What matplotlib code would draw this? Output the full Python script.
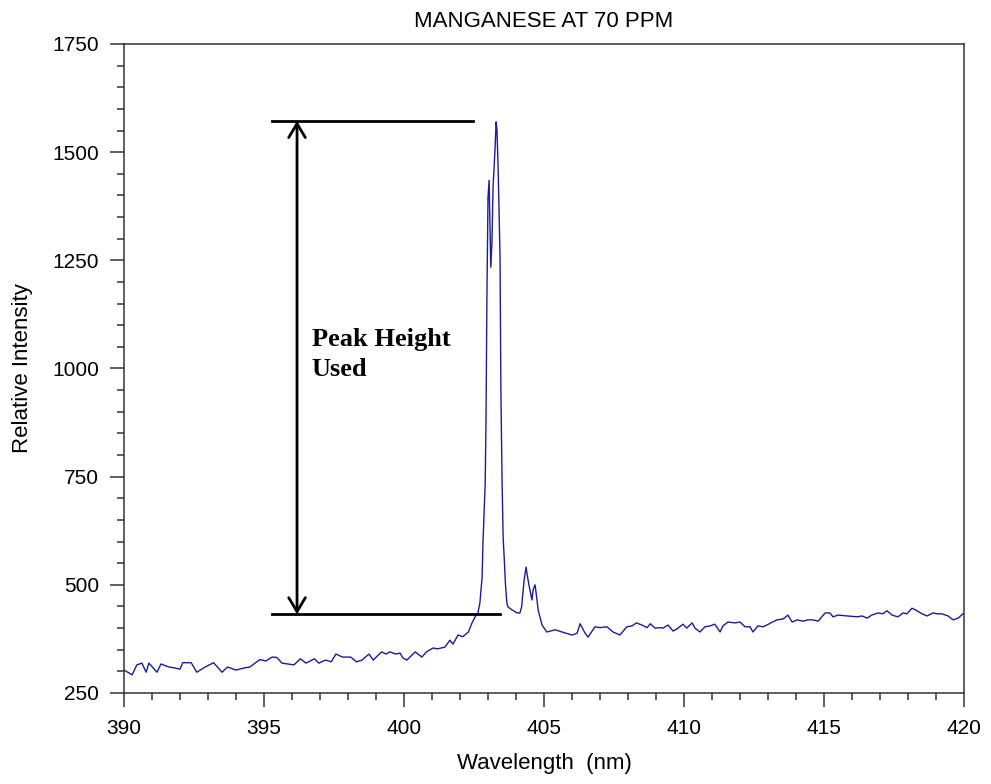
##====================================================##
##       About: Manganese emission spectrum at 70 ppm
##              with the peak height marked.
##====================================================##

import matplotlib
matplotlib.use("Agg")
import matplotlib.pyplot as plt
import numpy as np


## DATA ##

wavelength_nm = [
    390.00, 390.29, 390.46, 390.64, 390.79, 390.89, 391.18, 391.32, 391.60, 391.80,
    392.00, 392.10, 392.40, 392.60, 392.90, 393.20, 393.50, 393.70, 394.00, 394.30,
    394.50, 394.70, 394.85, 395.07, 395.29, 395.46, 395.64, 396.07, 396.30, 396.50,
    396.80, 396.96, 397.20, 397.40, 397.57, 397.80, 398.10, 398.30, 398.50, 398.75,
    398.90, 399.20, 399.36, 399.50, 399.70, 399.86, 399.96, 400.10, 400.40, 400.64,
    400.80, 401.04, 401.20, 401.46, 401.64, 401.75, 401.93, 402.10, 402.30, 402.43,
    402.54, 402.64, 402.71, 402.79, 402.82, 402.90, 402.93, 402.96, 403.00, 403.04,
    403.07, 403.10, 403.14, 403.18, 403.25, 403.29, 403.32, 403.36, 403.43, 403.46,
    403.50, 403.54, 403.58, 403.62, 403.67, 403.71, 403.86, 404.04, 404.14, 404.20,
    404.29, 404.36, 404.39, 404.46, 404.57, 404.61, 404.68, 404.75, 404.79, 404.93,
    405.10, 405.40, 405.64, 406.00, 406.18, 406.29, 406.46, 406.57, 406.82, 407.00,
    407.25, 407.46, 407.71, 407.96, 408.14, 408.30, 408.50, 408.68, 408.80, 408.96,
    409.14, 409.25, 409.43, 409.61, 409.79, 409.96, 410.10, 410.29, 410.39, 410.57,
    410.75, 410.93, 411.10, 411.29, 411.39, 411.57, 411.82, 412.00, 412.18, 412.36,
    412.46, 412.64, 412.82, 412.96, 413.10, 413.32, 413.54, 413.71, 413.86, 414.04,
    414.25, 414.43, 414.60, 414.79, 415.04, 415.21, 415.32, 415.50, 415.82, 416.18,
    416.36, 416.54, 416.70, 416.93, 417.10, 417.25, 417.43, 417.64, 417.82, 417.96,
    418.14, 418.32, 418.50, 418.68, 418.89, 419.04, 419.21, 419.43, 419.61, 419.79,
    419.96, 420.00,
]

relative_intensity = [
    303, 292, 315, 319, 298, 319, 298, 317, 310, 308,
    305, 320, 320, 298, 310, 320, 298, 310, 303, 308,
    310, 320, 327, 324, 333, 332, 319, 315, 329, 319,
    329, 319, 326, 322, 340, 333, 333, 322, 326, 340,
    326, 345, 340, 345, 340, 342, 331, 326, 345, 333,
    345, 354, 352, 356, 372, 363, 384, 380, 391, 412,
    426, 435, 458, 518, 597, 735, 888, 1158, 1396, 1435,
    1327, 1234, 1290, 1419, 1505, 1570, 1551, 1466, 1257, 950,
    749, 610, 560, 505, 460, 449, 442, 435, 435, 449,
    511, 541, 527, 500, 465, 488, 500, 465, 442, 407,
    391, 396, 391, 384, 388, 410, 389, 379, 403, 401,
    403, 391, 384, 403, 405, 412, 407, 401, 410, 400,
    401, 400, 407, 393, 400, 409, 400, 412, 400, 391,
    403, 405, 409, 391, 405, 414, 412, 414, 403, 403,
    391, 405, 403, 407, 412, 419, 421, 430, 414, 419,
    416, 419, 419, 416, 435, 435, 426, 430, 428, 426,
    428, 423, 430, 435, 433, 440, 430, 426, 435, 433,
    446, 440, 433, 428, 435, 433, 433, 428, 419, 423,
    433, 433,
]

# peak height marker
PEAK_TOP = 1572
PEAK_BASE = 432
ARROW_X = 396.18
TOP_LINE_X = [395.29, 402.46]
BASE_LINE_X = [395.29, 403.43]


## FIGURE ##

plt.rcParams["font.family"] = ["Liberation Sans", "DejaVu Sans"]

fig = plt.figure(figsize=(9.91, 7.84), dpi=100)
ax = fig.add_axes([0.1251, 0.1161, 0.8477, 0.8278])

ax.plot(wavelength_nm, relative_intensity, color="#1c1c96", linewidth=1.0)

## PEAK HEIGHT MARKING ##
ax.plot(TOP_LINE_X, [PEAK_TOP, PEAK_TOP], color="black", linewidth=2)
ax.plot(BASE_LINE_X, [PEAK_BASE, PEAK_BASE], color="black", linewidth=2)
ax.annotate("", xy=(ARROW_X, PEAK_TOP), xytext=(ARROW_X, PEAK_BASE),
            arrowprops=dict(arrowstyle="<->, head_length=0.5, head_width=0.3",
                            color="black", linewidth=2, mutation_scale=20,
                            shrinkA=0, shrinkB=0))
ax.text(396.71, 1032, "Peak Height\nUsed", fontsize=19, fontweight="bold",
        family=["Liberation Serif", "DejaVu Serif"], ha="left", va="center",
        linespacing=1.35)


## SET NICE PLOT PROPERTIES ##

ax.set_xlim(390, 420)
ax.set_ylim(250, 1750)
ax.set_xticks(np.arange(390, 421, 5))
ax.set_xticks(np.arange(390, 421, 1), minor=True)
ax.set_yticks(np.arange(250, 1751, 250))
ax.set_yticks(np.arange(250, 1751, 50), minor=True)

ax.tick_params(which="major", direction="out", length=10, width=1.1,
               color="#333333", labelsize=15, pad=8)
ax.tick_params(which="minor", direction="out", length=5, width=1.1,
               color="#333333")
ax.tick_params(axis="x", which="major", pad=9)
for spine in ax.spines.values():
    spine.set_color("#333333")
    spine.set_linewidth(1.1)

ax.set_title("MANGANESE AT 70 PPM", fontsize=16, pad=12)
ax.set_xlabel("Wavelength  (nm)", fontsize=16)
ax.set_ylabel("Relative Intensity", fontsize=16)
ax.xaxis.set_label_coords(0.5, -0.093)
ax.yaxis.set_label_coords(-0.108, 0.5)

fig.savefig("out.png", dpi=100)
